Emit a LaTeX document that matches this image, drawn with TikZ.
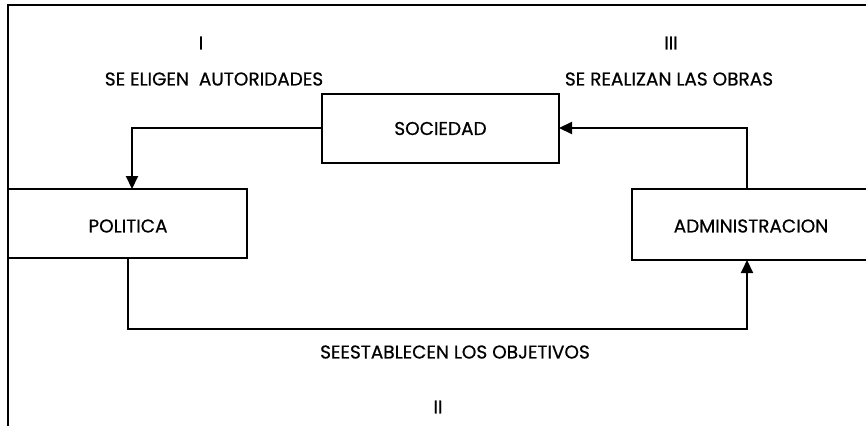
\documentclass[tikz,border=0pt]{standalone}
\usepackage{fontspec}
\setmainfont{Poppins}
\newfontfamily\lblfont{Poppins}[FakeBold=0.6]
\usetikzlibrary{arrows.meta}
\begin{document}
\begin{tikzpicture}[x=1pt,y=-1pt,
  line width=2.1pt,
  boxst/.style={draw,line width=2.1pt},
  lbl/.style={font=\lblfont\fontsize{18.5}{20}\selectfont,inner sep=0pt},
  conn/.style={line width=2.1pt,-{Triangle[length=13pt,width=12pt]}}]
\useasboundingbox (0,0) rectangle (866,426);
% frame (top and left edges)
\coordinate (ftl) at (8,5);
\coordinate (ftr) at (866,5);
\coordinate (fbl) at (8,426);
\draw[line width=2.1pt] (ftr) -- (ftl) -- (fbl);
% boxes
\draw[boxst] (322,94) rectangle (559,163);
\node[lbl] (soc) at (440.5,128.5) {SOCIEDAD};
\coordinate (socL) at (322,128);
\coordinate (socR) at (559,128);
\draw[boxst] (8,189) rectangle (247,258);
\node[lbl] (pol) at (128,226) {POLITICA};
\coordinate (polT) at (132,189);
\coordinate (polB) at (128,258);
\draw[boxst] (870,189) -- (632,189) -- (632,260) -- (870,260);
\node[lbl] (adm) at (751,226) {ADMINISTRACION};
\coordinate (admT) at (747,189);
\coordinate (admB) at (747,260);
% connectors
\draw[conn] (socL) -| (polT);
\draw[conn] (admT) |- (socR);
\draw[conn] (polB) |- (455,329) -| (admB);
% labels
\node[lbl] (n1) at (201,43) {I};
\node[lbl] (t1) at (214,79) {SE ELIGEN\ \ AUTORIDADES};
\node[lbl] (n3) at (671,43) {III};
\node[lbl] (t3) at (669,79) {SE REALIZAN LAS OBRAS};
\node[lbl] (t2) at (455,352) {SEESTABLECEN LOS OBJETIVOS};
\node[lbl] (n2) at (438,407) {II};
\end{tikzpicture}
\end{document}
